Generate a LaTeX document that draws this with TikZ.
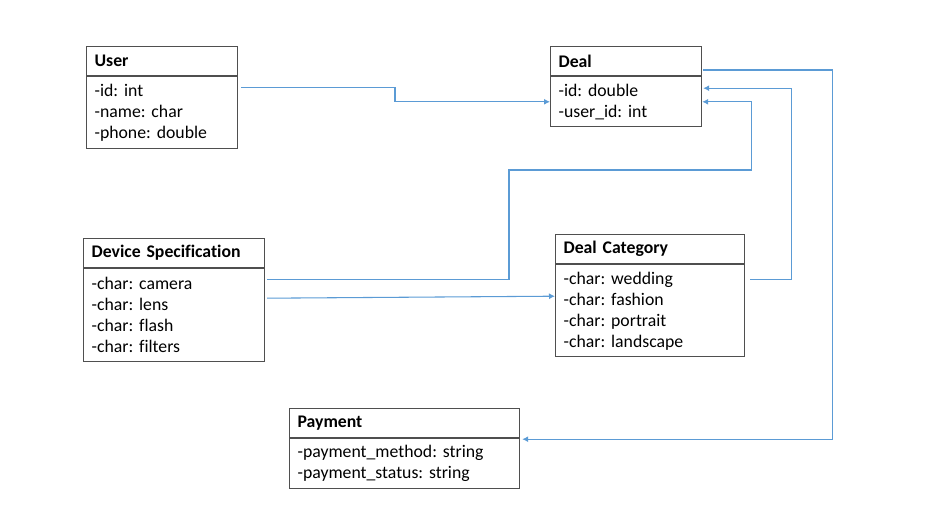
\documentclass[tikz,border=0pt]{standalone}
\usepackage{fontspec}
\setmainfont{Carlito}[Ligatures=NoCommon]
\usetikzlibrary{positioning,calc,arrows.meta}
\definecolor{linkblue}{HTML}{5B9BD5}
\definecolor{boxgray}{HTML}{4F4F4F}
\frenchspacing

\begin{document}
\begin{tikzpicture}[x=0.75pt,y=-0.75pt,>={Latex[length=4.5pt,width=4.5pt]},
	cls/.style={draw=boxgray,line width=0.9pt,anchor=north west,inner xsep=6pt,inner ysep=0pt,align=left,font=\fontsize{13.3}{15.75}\selectfont},
	head/.style={cls,font=\fontsize{13.3}{15.75}\selectfont\bfseries,minimum height=21.75pt},
	link/.style={draw=linkblue,line width=0.8pt}]
	\useasboundingbox (0,0) rectangle (932,520);
	% classes
	\node[head,text width=101.25pt] (user) at (86,46) {User};
	\node[cls,text width=101.25pt,minimum height=54pt] (user-body) at (user.south west) {-id: int\\-name: char\\-phone: double};
	\node[head,text width=101.25pt] (deal) at (550,46) {Deal};
	\node[cls,text width=101.25pt,minimum height=37.5pt] (deal-body) at (deal.south west) {-id: double\\-user\_id: int};
	\node[head,text width=123.75pt] (device) at (83,238) {Device Specification};
	\node[cls,text width=123.75pt,minimum height=69.75pt] (device-body) at (device.south west) {-char: camera\\-char: lens\\-char: flash\\-char: filters};
	\node[head,text width=129.75pt] (category) at (555,234) {Deal Category};
	\node[cls,text width=129.75pt,minimum height=69pt] (category-body) at (category.south west) {-char: wedding\\-char: fashion\\-char: portrait\\-char: landscape};
	\node[head,text width=160.5pt] (payment) at (289,408) {Payment};
	\node[cls,text width=160.5pt,minimum height=37.5pt] (payment-body) at (payment.south west) {-payment\_method: string\\-payment\_status: string};
	% end points
	\coordinate (user-out) at ($(user-body.north east)+(3,11)$);
	\coordinate (device-out1) at ($(device-body.north east)+(2,11)$);
	\coordinate (device-out2) at ($(device-body.north east)+(2,30)$);
	\coordinate (category-in) at ($(category-body.north west)+(0,32)$);
	\coordinate (category-out) at ($(category-body.north east)+(5,15)$);
	\coordinate (deal-in) at ($(deal-body.north east)+(1,12)$);
	\coordinate (deal-out) at ($(deal.north east)+(1,24)$);
	\coordinate (payment-in) at ($(payment-body.north east)+(2,1)$);
	% connectors
	\draw[link,->] (user-out) -| (395,99) |- (deal-body.west);
	\draw[link,->] (device-out1) -| (509,170) -| ($(deal-body.east)+(49,0)$) -- (deal-body.east);
	\draw[link,->] (device-out2) -- (category-in);
	\draw[link,->] (category-out) -| ($(deal-in)+(88,0)$) -- (deal-in);
	\draw[link,->] (deal-out) -| ($(payment-in)+(310,0)$) -- (payment-in);
\end{tikzpicture}
\end{document}
